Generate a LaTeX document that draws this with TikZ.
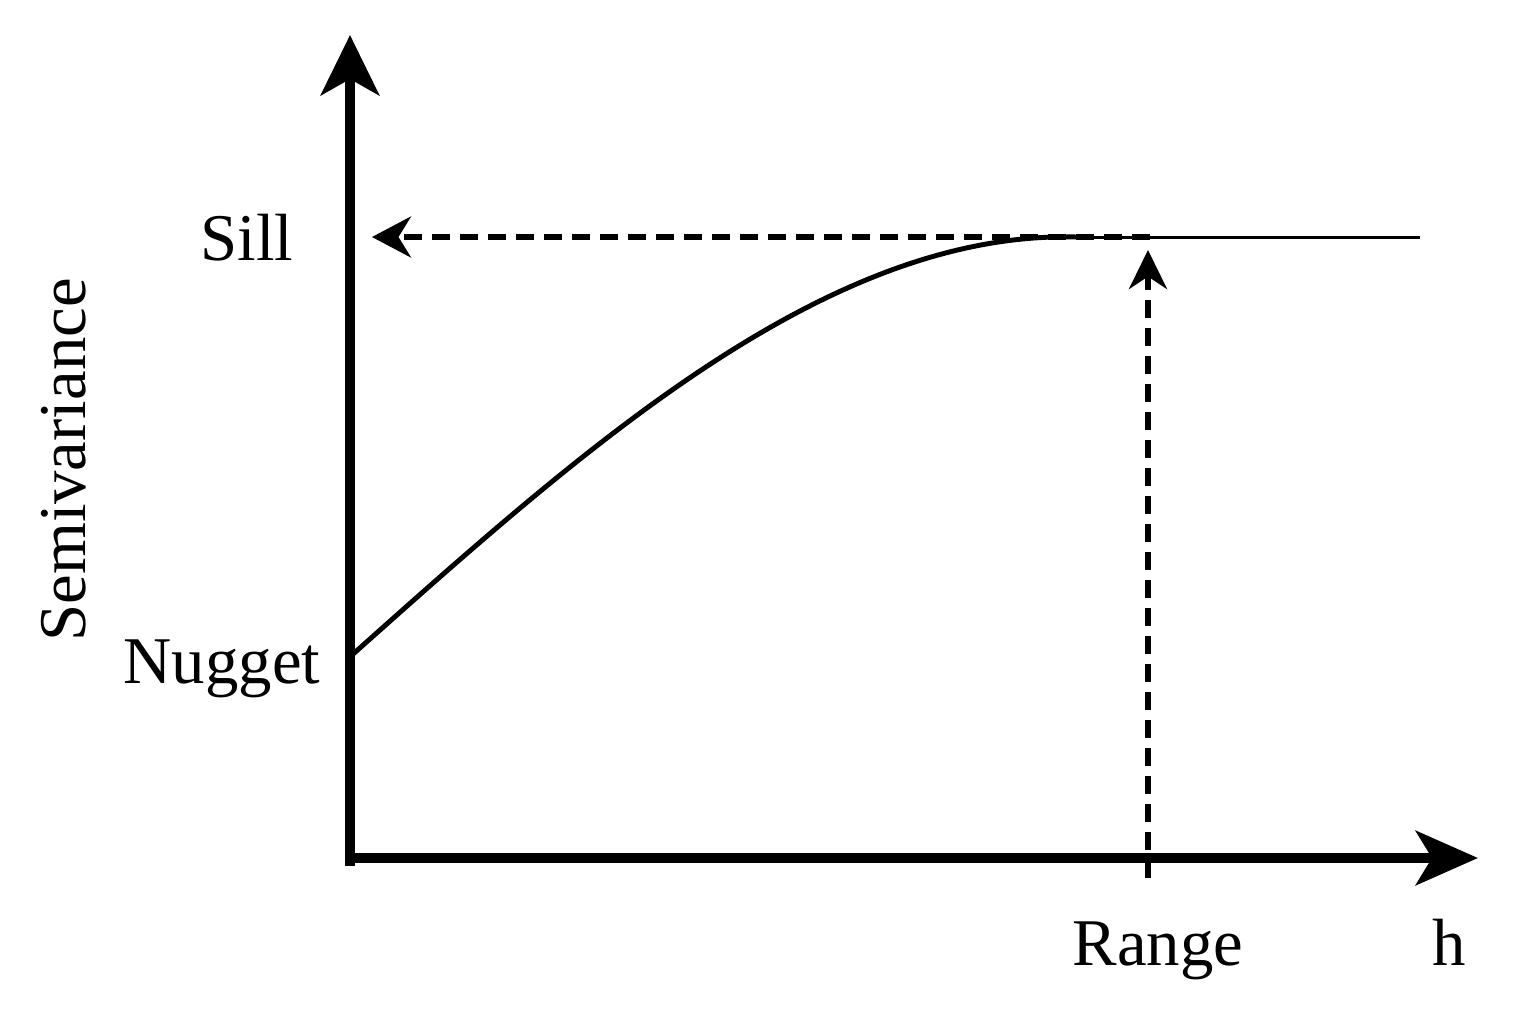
\documentclass[tikz,border=0pt]{standalone}
\usepackage{fontspec}
\setmainfont{Liberation Serif}
\usetikzlibrary{arrows.meta}
\begin{document}
\begin{tikzpicture}[x=0.02cm,y=-0.02cm,
  axisline/.style={line width=6pt,line cap=butt},
  curveline/.style={line width=2.8pt,line cap=round},
  dashline/.style={line width=3pt,dash pattern=on 0.36cm off 0.2cm},
  lbl/.style={font=\fontsize{38}{41}\selectfont,inner sep=0pt,anchor=base}]
\useasboundingbox (0,0) rectangle (1522,1015);
% coordinates
\coordinate (Obot) at (350,866);
\coordinate (Oleft) at (345,858);
\coordinate (Ytop) at (350,35);
\coordinate (Xend) at (1478,858);
\coordinate (N0) at (352,655);
\coordinate (Cend) at (1077,237);
\coordinate (SillL) at (372,237);
\coordinate (SillM) at (1150,237);
\coordinate (SillR) at (1420,237);
\coordinate (RangeB) at (1148,878);
\coordinate (RangeT) at (1148,250);
% axes
\draw[axisline,-{Stealth[length=1.2cm,width=1.16cm,inset=0.32cm]}] (Obot) -- (Ytop);
\draw[axisline,-{Stealth[length=1.24cm,width=1.08cm,inset=0.32cm]}] (Oleft) -- (Xend);
% curve (spherical model)
\draw[curveline] plot[domain=0:1,samples=100] ({352+725*\x},{655-418*(1.5*\x-0.5*\x*\x*\x+0.015*sin(180*\x))});
\draw[line width=1.7pt] (Cend) -- (SillR);
% dashed arrows
\draw[dashline,-{Stealth[length=0.78cm,width=0.82cm,inset=0.25cm]}] (SillM) -- (SillL);
\draw[dashline,-{Stealth[length=0.78cm,width=0.76cm,inset=0.25cm]}] (RangeB) -- (RangeT);
% labels
\node[lbl] (sill) at (247,260) {Sill};
\node[lbl] (nugget) at (222,683) {Nugget};
\node[lbl] (range) at (1158,965) {Range};
\node[lbl] (h) at (1449,965) {h};
\node[lbl,rotate=90] (semi) at (85,460) {Semivariance};
\end{tikzpicture}
\end{document}
